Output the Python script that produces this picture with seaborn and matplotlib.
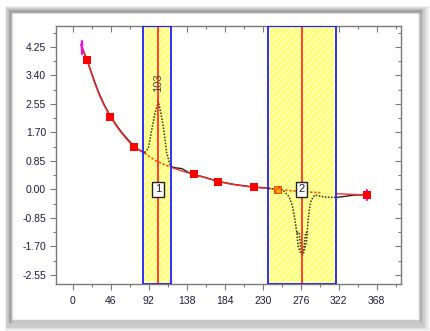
import numpy as np
import pandas as pd
import matplotlib
matplotlib.use("Agg")
import matplotlib.pyplot as plt
from matplotlib.patches import Rectangle
from matplotlib.ticker import MultipleLocator, FixedLocator
import seaborn as sns

# ---------------- data ----------------
base_x = [10, 14, 17, 22, 27, 32, 38, 46, 53, 60, 67, 75, 81, 87, 94, 100, 110, 119, 132, 146,
          160, 176, 195, 210, 220, 237, 248, 265, 280, 300, 320, 340, 356]
base_y = [4.30, 4.05, 3.87, 3.50, 3.14, 2.82, 2.50, 2.15, 1.88, 1.65, 1.45, 1.25, 1.16, 1.08, 0.96, 0.86,
          0.75, 0.66, 0.55, 0.45, 0.35, 0.23, 0.14, 0.09, 0.06, 0.03, 0.00, -0.04, -0.07, -0.10, -0.13,
          -0.15, -0.16]

# black measured data, solid parts outside the regions
data1_x = [10, 14, 17, 22, 27, 32, 38, 46, 53, 60, 67, 75, 81, 87]
data1_y = [4.32, 4.07, 3.89, 3.53, 3.18, 2.86, 2.53, 2.17, 1.91, 1.68, 1.48, 1.27, 1.17, 1.09]
data2_x = [119, 125, 132, 140, 146, 160, 176, 195, 210, 220, 237]
data2_y = [0.68, 0.64, 0.62, 0.51, 0.45, 0.36, 0.24, 0.15, 0.10, 0.07, 0.04]
data3_x = [319, 326, 332, 340, 356]
data3_y = [-0.24, -0.22, -0.20, -0.17, -0.16]

# dotted peak curves inside the regions
peak1_x = [87, 91.5, 95.6, 99.6, 103.7, 106.5, 109.7, 113.8, 117.8, 119.4]
peak1_y = [1.10, 1.22, 1.77, 2.27, 2.61, 2.30, 1.87, 1.08, 0.73, 0.68]
peak2_x = [237, 248, 252, 256, 262, 266, 269, 271, 273, 276, 278.4, 280, 283, 285, 287, 289, 293, 299, 305, 319]
peak2_y = [0.03, 0.00, -0.01, -0.06, -0.22, -0.50, -0.90, -1.25, -1.71, -1.90, -1.95, -1.85, -1.55, -0.91, -0.50, -0.31, -0.17, -0.20, -0.23, -0.24]
peak2b_x = [271, 274, 276, 278, 280, 282, 284]
peak2b_y = [-1.28, -1.28, -1.72, -1.92, -1.72, -1.30, -1.28]

# markers
sq_x = [17, 45.5, 74.6, 146.5, 175.5, 219.5, 356]
sq_y = [3.87, 2.15, 1.25, 0.45, 0.23, 0.06, -0.16]
anchor_x = [248]
anchor_y = [-0.01]

# regions of interest
regions = [(84.5, 119.5, 103, "1"), (237, 319, 277, "2")]
peak_label = "103"

xticks = [0, 46, 92, 138, 184, 230, 276, 322, 368]
yticks = [-2.55, -1.70, -0.85, 0.00, 0.85, 1.70, 2.55, 3.40, 4.25]

# ---------------- figure ----------------
sns.set_style("white")
plt.rcParams['font.family'] = ['Liberation Sans', 'DejaVu Sans']
plt.rcParams['hatch.linewidth'] = 0.6

fig = plt.figure(figsize=(4.31, 3.31), dpi=100)
W, H = 431, 331

# outer frame with soft shadow
for i, a in enumerate([0.04, 0.06, 0.09, 0.13]):
    off = 4 - i
    fig.add_artist(Rectangle(((8 + off * 0.5) / W, 1 - (324 + off) / H),
                             (413 + off) / W, (314 + off) / H,
                             transform=fig.transFigure, facecolor="none",
                             edgecolor=(0.3, 0.3, 0.3, a), linewidth=2.5 + off))
fig.add_artist(Rectangle((10 / W, 1 - 321 / H), 410 / W, 310 / H,
                         transform=fig.transFigure, facecolor="white",
                         edgecolor="#c8c8c8", linewidth=2.5, zorder=0.5))

ax = fig.add_axes([55.7 / W, 1 - 284 / H, (401 - 55.7) / W, (284 - 26) / H])
ax.set_zorder(2)
ax.set_facecolor("none")

for x0, x1, xc, lab in regions:
    ax.axvspan(x0, x1, facecolor="#ffff7a", edgecolor="white", hatch="/////",
               linewidth=0, zorder=1)
    ax.axvspan(x0, x1, facecolor="none", edgecolor="#1f1fff", linewidth=1.3, zorder=6)
    ax.axvline(xc, color="#ff2020", linewidth=1.2, zorder=5)

# measured data (black), under the red baseline
for xs, ys in [(data1_x, data1_y), (data2_x, data2_y), (data3_x, data3_y)]:
    sns.lineplot(x=xs, y=ys, ax=ax, color="#222222", linewidth=1.0,
                 sort=False, estimator=None, zorder=3)
for xs, ys in [(peak1_x, peak1_y), (peak2_x, peak2_y), (peak2b_x, peak2b_y)]:
    sns.lineplot(x=xs, y=ys, ax=ax, color="#333300", linewidth=1.1,
                 linestyle=(0, (1, 1)), sort=False, estimator=None, zorder=4)

# baseline (red)
bdf = pd.DataFrame({"x": base_x, "y": base_y})
outside = bdf[(bdf.x <= regions[0][0] + 2) | ((bdf.x >= regions[0][1] - 1) & (bdf.x <= regions[1][0] + 1)) | (bdf.x >= regions[1][1] - 1)]
for lo, hi in [(0, 87), (119, 237), (319, 400)]:
    seg = bdf[(bdf.x >= lo) & (bdf.x <= hi)]
    sns.lineplot(data=seg, x="x", y="y", ax=ax, color="#ff2a2a", linewidth=1.0,
                 sort=False, estimator=None, zorder=3.5)
for lo, hi in [(87, 119), (237, 319)]:
    seg = bdf[(bdf.x >= lo) & (bdf.x <= hi)]
    ax.plot(seg.x, seg.y, color="#ff5a00", linestyle=(0, (1.5, 1)), linewidth=1.2, zorder=3.5)

# markers
sns.scatterplot(x=sq_x, y=sq_y, ax=ax, marker="s", s=28, color="#ff0000",
                edgecolor="#ff0000", linewidth=0, zorder=7)
ax.scatter(anchor_x, anchor_y, marker="s", s=26, facecolor="#ffb000",
           edgecolor="#ff3000", hatch="xxxx", linewidth=0.6, zorder=7)
ax.plot([10.9, 10.9], [4.05, 4.42], color="#ff00ff", linewidth=1.6, zorder=8)
ax.plot([356.5, 356.5], [-0.02, -0.32], color="#ff00ff", linewidth=1.6, zorder=6.5)

# labels
ax.text(103, 3.18, peak_label, rotation=90, ha="center", va="center",
        fontsize=8, color="#444444", zorder=8)
for x0, x1, xc, lab in regions:
    ax.text(xc, 0.0, lab, ha="center", va="center", fontsize=8, color="#222222",
            zorder=9, bbox=dict(boxstyle="square,pad=0.25", facecolor="white",
                                edgecolor="#222222", linewidth=1.0))

# axes styling
ax.set_xlim(-20.6, 397.4)
ax.set_ylim(-2.82, 4.87)
ax.xaxis.set_major_locator(FixedLocator(xticks))
ax.xaxis.set_minor_locator(MultipleLocator(23))
ax.yaxis.set_major_locator(FixedLocator(yticks))
ax.yaxis.set_minor_locator(MultipleLocator(0.425))
ax.set_xticklabels([str(v) for v in xticks])
ax.set_yticklabels(["%.2f" % v for v in yticks])
ax.set_xlabel("")
ax.set_ylabel("")
for s in ax.spines.values():
    s.set_color("#7a7a7a")
    s.set_linewidth(1.0)
    s.set_visible(True)
ax.tick_params(which="both", colors="#7a7a7a", labelcolor="#1c1c3a", labelsize=7.5,
               direction="out", bottom=True, left=True, top=False, right=False)
ax.tick_params(which="major", length=4, width=0.8, pad=3)
ax.tick_params(which="minor", length=2.5, width=0.8)
ax.tick_params(axis="x", pad=5)

# inward ticks on top and right
axt = ax.secondary_xaxis("top")
axt.xaxis.set_major_locator(FixedLocator(xticks))
axt.xaxis.set_minor_locator(MultipleLocator(23))
axt.tick_params(which="both", direction="in", colors="#7a7a7a", labeltop=False, length=4, width=0.8)
axt.tick_params(which="minor", length=2.5)
axr = ax.secondary_yaxis("right")
axr.yaxis.set_major_locator(FixedLocator(yticks))
axr.yaxis.set_minor_locator(MultipleLocator(0.425))
axr.tick_params(which="both", direction="in", colors="#7a7a7a", labelright=False, length=4, width=0.8)
axr.tick_params(which="minor", length=2.5)
for a2 in (axt, axr):
    for s in a2.spines.values():
        s.set_visible(False)

fig.savefig("out.png", dpi=100)
